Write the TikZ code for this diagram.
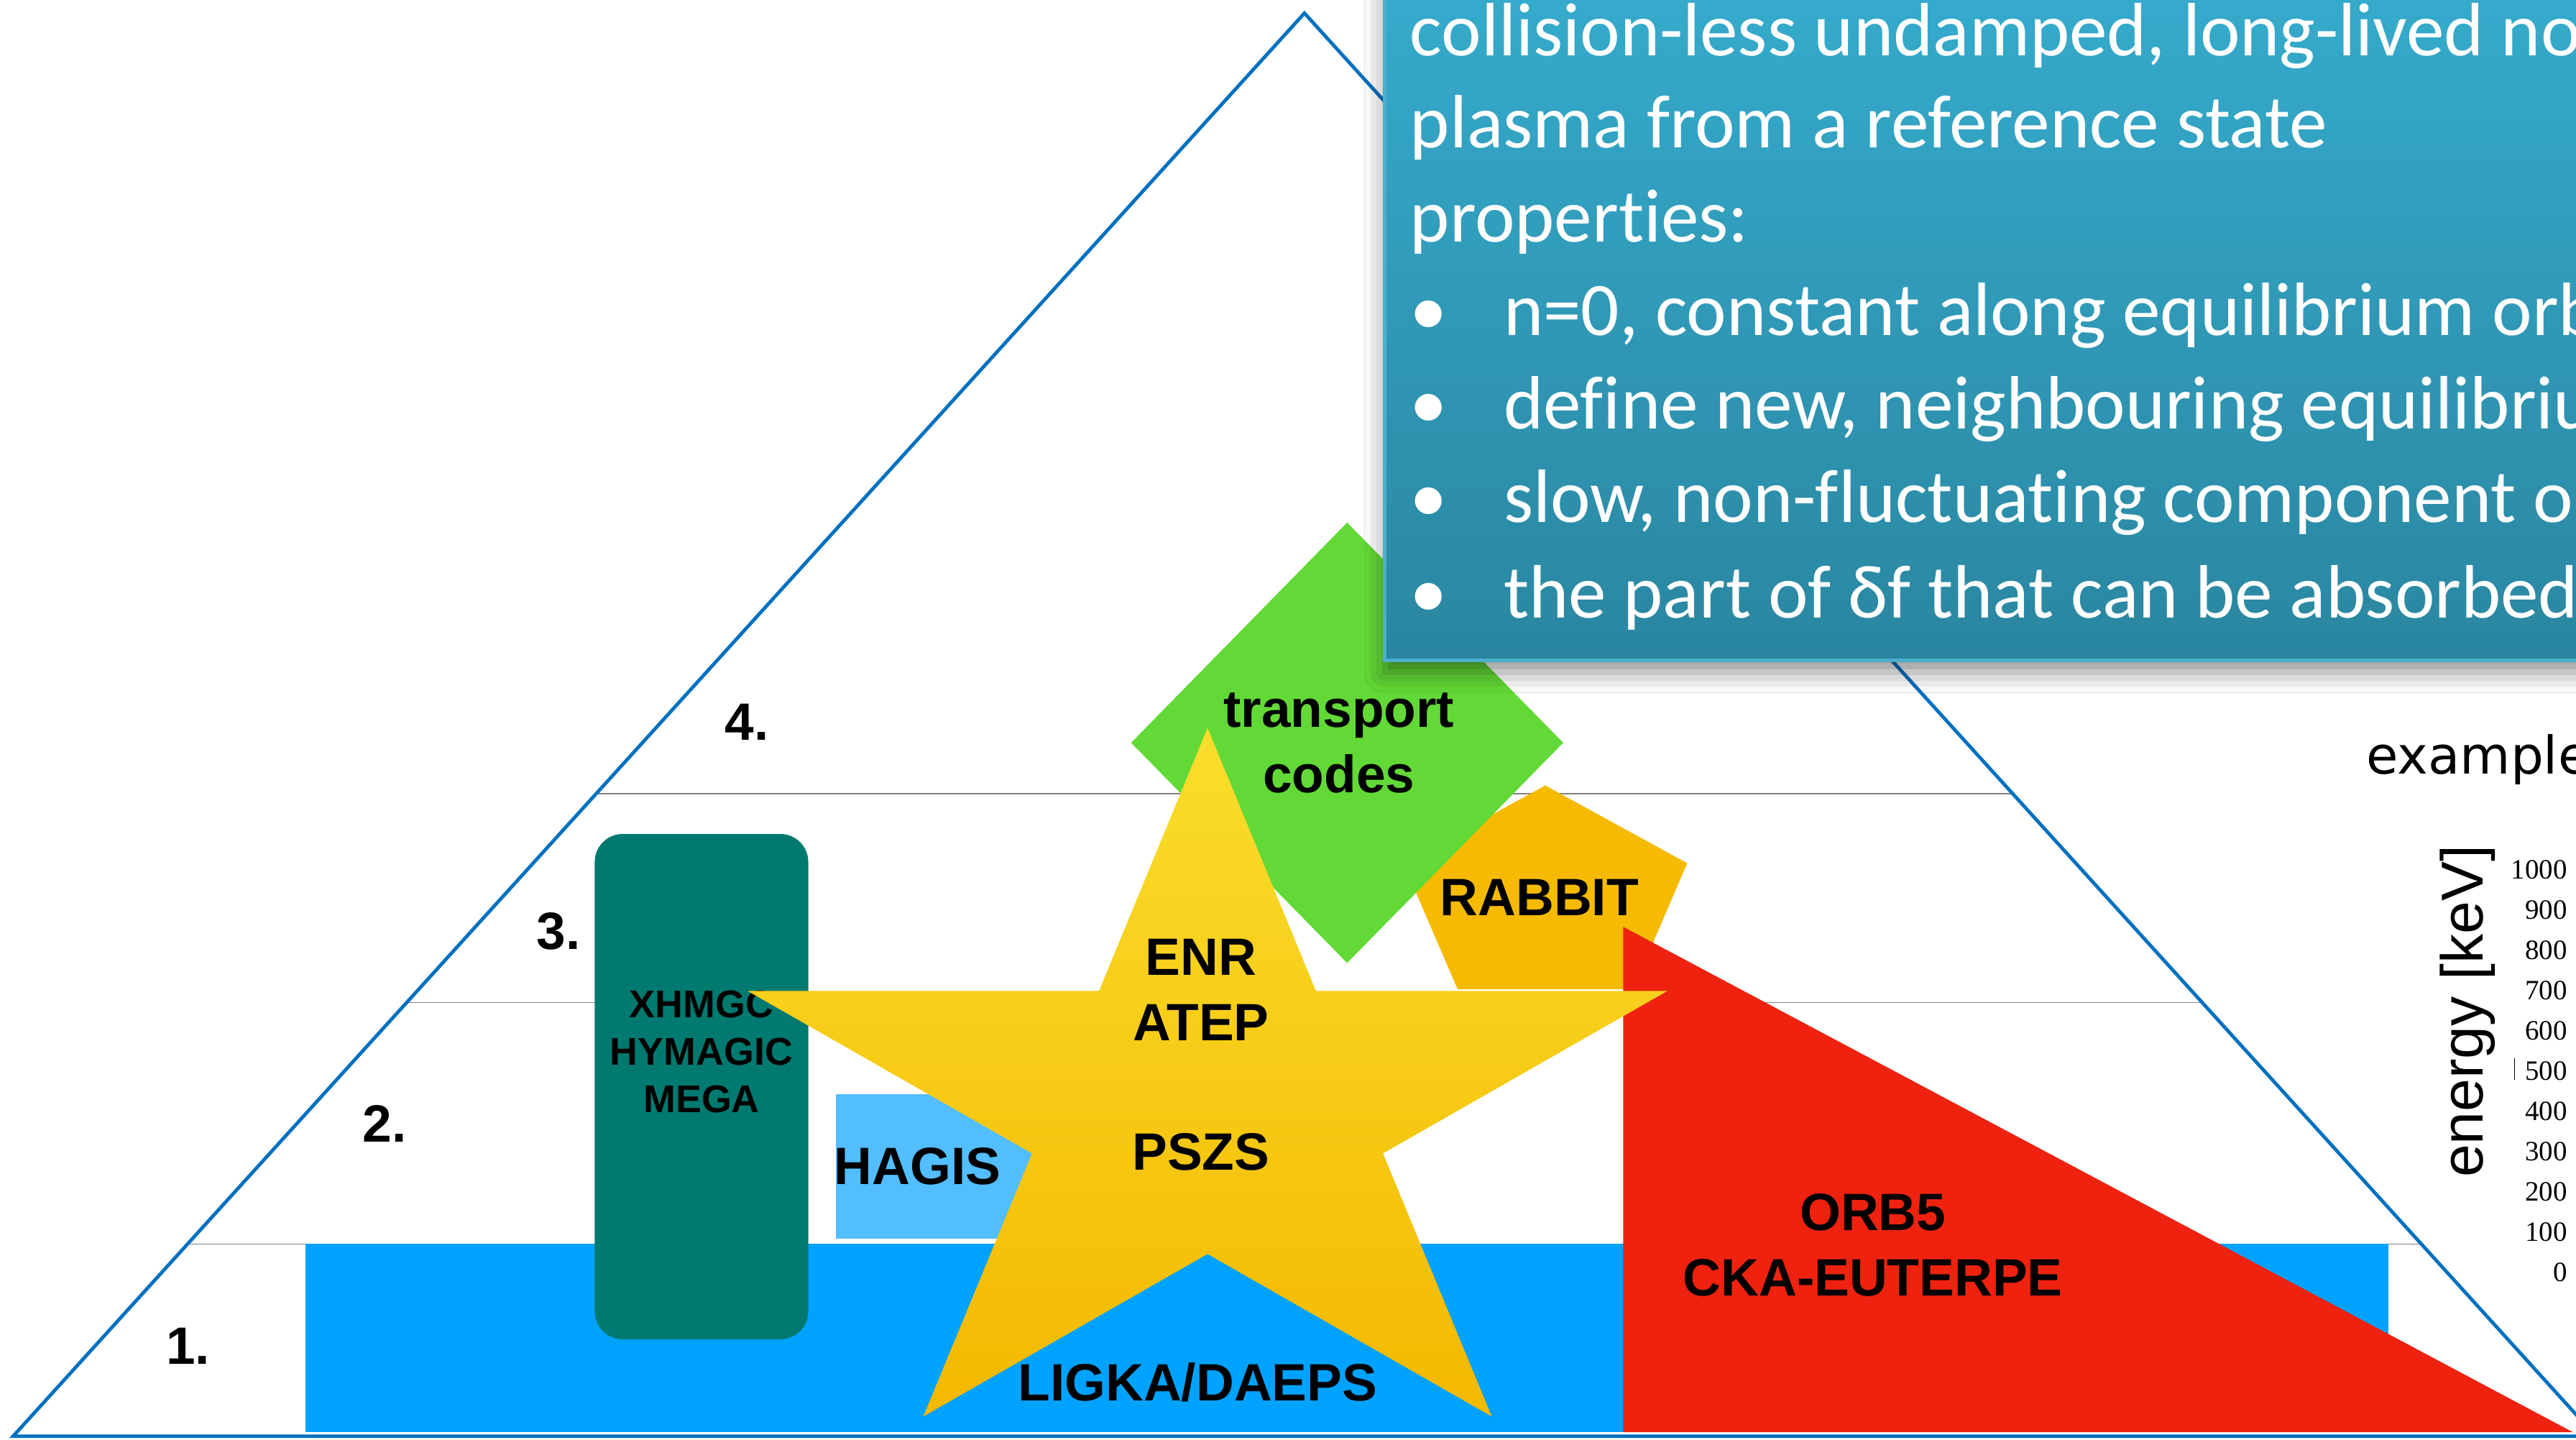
\documentclass[tikz,border=0pt]{standalone}
\usepackage{fontspec}
\setmainfont{Liberation Sans}
\newfontfamily\calibrifont[Ligatures=NoCommon]{Carlito}
\newfontfamily\lucidafont{DejaVu Sans}
\newfontfamily\timesfont{Liberation Serif}
\usetikzlibrary{calc, shadows, shadows.blur}

\definecolor{pyramidblue}{RGB}{0,112,192}
\definecolor{levelgray}{RGB}{128,128,128}
\definecolor{ligkablue}{RGB}{0,162,255}
\definecolor{hagisblue}{RGB}{82,190,255}
\definecolor{megateal}{RGB}{0,122,112}
\definecolor{transportgreen}{RGB}{98,217,54}
\definecolor{rabbitorange}{RGB}{246,186,0}
\definecolor{orbred}{RGB}{238,34,15}
\definecolor{startop}{RGB}{250,222,44}
\definecolor{starbottom}{RGB}{244,184,0}
\definecolor{boxtop}{RGB}{54,173,207}
\definecolor{boxbottom}{RGB}{42,134,160}
\definecolor{boxborder}{RGB}{75,175,205}

\newcommand{\infobullet}{\makebox[32.4pt][l]{\textbullet}}

\tikzset{
  pyramid/.style={draw=pyramidblue, line width=1.2pt, line join=miter},
  level/.style={draw=levelgray, line width=0.4pt},
  codename/.style={font=\fontsize{18.2}{22.7}\selectfont\bfseries, align=center, inner sep=0pt},
  levelnum/.style={font=\fontsize{18.2}{22.7}\selectfont\bfseries, inner sep=0pt},
  infoline/.style={font=\calibrifont\fontsize{26.2}{32.4}\selectfont, text=white, anchor=base west, inner sep=0pt},
  axislabel/.style={font=\timesfont\fontsize{9.7}{11}\selectfont, anchor=base east, inner sep=0pt}
}

\begin{document}
\begin{tikzpicture}[x=0.02cm, y=-0.02cm]
    \useasboundingbox (0,0) rectangle (1568,876);
    \clip (0,0) rectangle (1568,876);
    \fill[white] (0,0) rectangle (1568,876);

    % pyramid with its four levels
    \coordinate (apex) at (794,8);
    \coordinate (baseL) at (8,874);
    \coordinate (baseR) at (1580,874);
    \draw[level] ($(apex)!0.5485!(baseL)$) -- ($(apex)!0.5485!(baseR)$);
    \draw[level] ($(apex)!0.6952!(baseL)$) -- ($(apex)!0.6952!(baseR)$);
    \draw[level] ($(apex)!0.8649!(baseL)$) -- ($(apex)!0.8649!(baseR)$);
    \draw[pyramid] (apex) -- (baseL) -- (baseR) -- cycle;

    % code blocks
    \fill[ligkablue] (186,757) rectangle (1454,871.5);
    \fill[hagisblue] (509,666) rectangle (640,754);
    \fill[megateal, rounded corners=0.34cm] (362,507.5) rectangle (492,815);
    \node[codename, font=\fontsize{13.4}{16.5}\selectfont\bfseries] (mega) at (427,640) {XHMGC\\HYMAGIC\\MEGA};
    \fill[rabbitorange] (940.6,478) -- (1027,525.3) -- (994,601.9) -- (887.2,601.9) -- (854.2,525.3) -- cycle;
    \fill[transportgreen] (820,318) -- (951.5,452) -- (820,586) -- (688.5,452) -- cycle;
    \fill[orbred] (988,564) -- (988,871.5) -- (1566,871.5) -- cycle;
    \shade[top color=startop, bottom color=starbottom] (735,443) -- (801,603) -- (1015,603) -- (841.8,701.9) -- (908,862) -- (735,763.1) -- (562,862) -- (628.2,701.9) -- (455,603) -- (669,603) -- cycle;

    \node[codename] (transport) at (815,452) {transport\\codes};
    \node[codename] (rabbit) at (937,546) {RABBIT};
    \node[codename] (enr) at (731,602.5) {ENR\\ATEP};
    \node[codename] (pszs) at (731,701) {PSZS};
    \node[codename] (hagis) at (558.5,709.7) {HAGIS};
    \node[codename] (orb) at (1140,757.5) {ORB5\\CKA-EUTERPE};
    \node[codename] (ligka) at (729,841) {LIGKA/DAEPS};

    \node[levelnum] (lvl1) at (114.5,819) {1.};
    \node[levelnum] (lvl2) at (234,684) {2.};
    \node[levelnum] (lvl3) at (340,566.7) {3.};
    \node[levelnum] (lvl4) at (454.5,439.3) {4.};

    % energy axis
    \node[font=\lucidafont\fontsize{18}{22}\selectfont, anchor=base west, inner sep=0pt] (example) at (1440,471) {example};
    \node[font=\fontsize{20.5}{24}\selectfont, rotate=90, inner sep=0pt] (energy) at (1502,615.5) {energy [keV]};
    \draw[line width=0.4pt] (1530.5,644) -- (1530.5,657);
    \node[axislabel] (e1000) at (1563,535) {1000};
    \node[axislabel] (e900) at (1563,559.5) {900};
    \node[axislabel] (e800) at (1563,584) {800};
    \node[axislabel] (e700) at (1563,608.5) {700};
    \node[axislabel] (e600) at (1563,633) {600};
    \node[axislabel] (e500) at (1563,657.5) {500};
    \node[axislabel] (e400) at (1563,682) {400};
    \node[axislabel] (e300) at (1563,706.5) {300};
    \node[axislabel] (e200) at (1563,731) {200};
    \node[axislabel] (e100) at (1563,755.5) {100};
    \node[axislabel] (e0) at (1563,780) {0};

    % definition box
    \path[blur shadow={shadow xshift=0pt, shadow yshift=-4pt, shadow blur radius=7pt, shadow opacity=45}, top color=boxtop, bottom color=boxbottom, draw=boxborder, line width=1.3pt] (843,-30) rectangle (1620,402);
    \node[infoline] (info1) at (858,34) {collision-less undamped, long-lived no};
    \node[infoline] (info2) at (858,90) {plasma from a reference state};
    \node[infoline] (info3) at (858,147) {properties:};
    \node[infoline] (info4) at (858,204) {\infobullet n=0, constant along equilibrium orb};
    \node[infoline] (info5) at (858,261) {\infobullet define new, neighbouring equilibriu};
    \node[infoline] (info6) at (858,318) {\infobullet slow, non-fluctuating component o};
    \node[infoline] (info7) at (858,376) {\infobullet the part of δf that can be absorbed};
\end{tikzpicture}
\end{document}
